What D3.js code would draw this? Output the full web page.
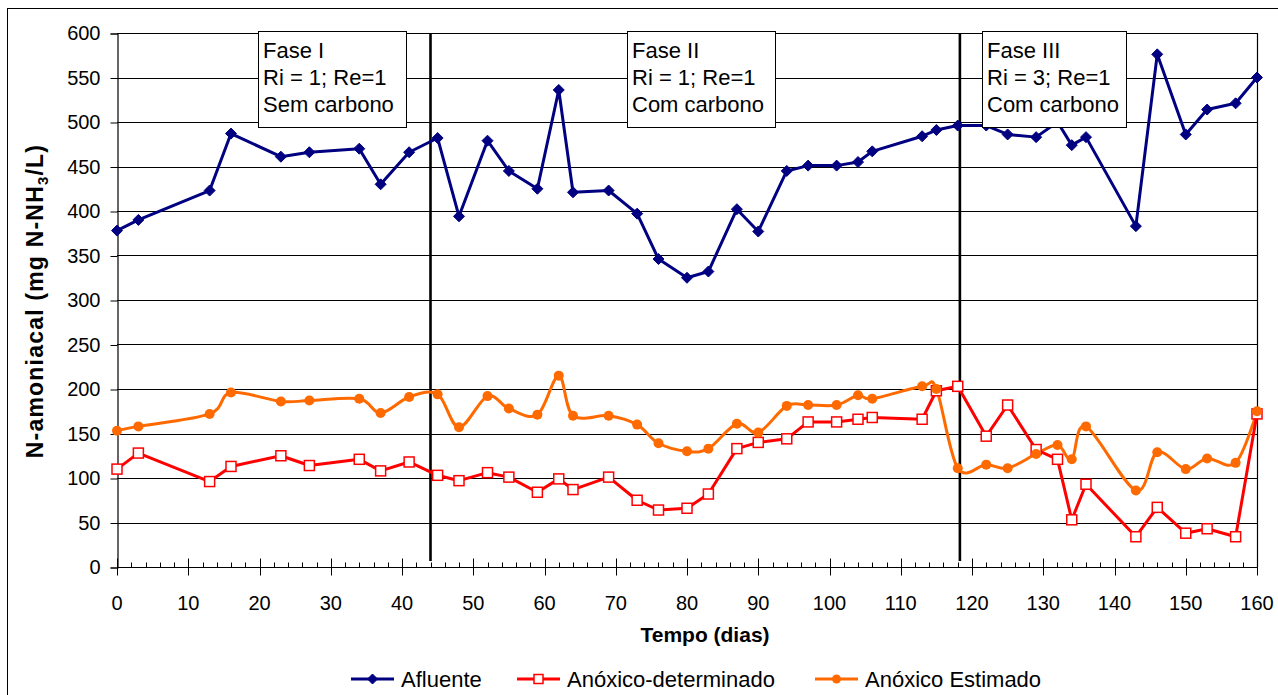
<!DOCTYPE html>
<html>
<head>
<meta charset="utf-8">
<script src="https://cdn.jsdelivr.net/npm/d3@7"></script>
<style>
  html, body { margin: 0; padding: 0; background: #fff; }
  svg { display: block; font-family: "Liberation Sans", Arial, sans-serif; }
</style>
</head>
<body>
<svg id="chart" width="1278" height="695"></svg>
<script>
// Tempo de operação (dias)
const days = [0,3,13,16,23,27,34,37,41,45,48,52,55,59,62,64,69,73,76,80,83,87,90,94,97,101,104,106,113,115,118,122,125,129,132,134,136,143,146,150,153,157,160];

// N-amoniacal (mg N-NH3/L)
const afluente = [378,390,423,487,461,466,470,430,466,482,394,479,445,425,536,421,423,397,346,325,332,402,377,445,451,451,455,467,484,491,496,496,486,483,500,474,483,383,576,486,514,521,550];
const anoxicoDeterminado = [110,128,96,113,125,114,121,108,118,103,97,106,101,84,99,87,101,75,64,66,82,133,140,144,163,163,166,168,166,198,203,147,182,132,121,53,93,34,67,38,43,34,172];
const anoxicoEstimado = [153,158,172,196,186,187,189,173,191,194,157,192,178,171,215,170,170,160,139,130,133,161,151,181,182,182,193,189,203,200,111,115,111,127,137,121,158,86,129,110,122,117,175];

const seriesNames = ["Afluente", "Anóxico-determinado", "Anóxico Estimado"];

// Axis ticks
const xTicks = [0,10,20,30,40,50,60,70,80,90,100,110,120,130,140,150,160];
const yTicks = [0,50,100,150,200,250,300,350,400,450,500,550,600];

// Limites das fases e textos das caixas
const phaseBounds = [44, 118.3];
const phaseLabels = [
  ["Fase I", "Ri = 1; Re=1", "Sem carbono"],
  ["Fase II", "Ri = 1; Re=1", "Com carbono"],
  ["Fase III", "Ri = 3; Re=1", "Com carbono"]
];

const svg = d3.select("#chart");
const plot = { left: 117, right: 1257, top: 33, bottom: 567 };

const x = d3.scaleLinear().domain([0, 160]).range([plot.left, plot.right]);
const y = d3.scaleLinear().domain([0, 600]).range([plot.bottom, plot.top]);

// outer chart frame
svg.append("rect")
  .attr("x", 7.5).attr("y", 8.5)
  .attr("width", 1400).attr("height", 800)
  .attr("fill", "#fff").attr("stroke", "#000").attr("stroke-width", 1);

// horizontal gridlines
svg.append("g")
  .selectAll("line")
  .data(yTicks.filter(d => d > 0))
  .join("line")
  .attr("x1", plot.left).attr("x2", plot.right)
  .attr("y1", d => Math.round(y(d)) + 0.5).attr("y2", d => Math.round(y(d)) + 0.5)
  .attr("stroke", "#000").attr("stroke-width", 1);

// right border of plot area
svg.append("line")
  .attr("x1", plot.right + 0.5).attr("x2", plot.right + 0.5)
  .attr("y1", plot.top).attr("y2", plot.bottom)
  .attr("stroke", "#000").attr("stroke-width", 1.2);

// y axis
const yAxis = d3.axisLeft(y).tickValues(yTicks).tickSize(7).tickPadding(10).tickFormat(d3.format("d"));
const gy = svg.append("g").attr("transform", `translate(${plot.left + 0.5},0.5)`).call(yAxis);
gy.select(".domain").attr("stroke", "#000").attr("stroke-width", 1.2);
gy.selectAll(".tick line").attr("stroke", "#000");
gy.selectAll(".tick text").attr("font-size", 20).attr("fill", "#000")
  .attr("font-family", "Liberation Sans, Arial, sans-serif");

// x axis: minor ticks every 2 days inside, major ticks every 10 crossing
const gx = svg.append("g").attr("transform", `translate(0,${plot.bottom + 0.5})`);
gx.append("line")
  .attr("x1", plot.left).attr("x2", plot.right + 1)
  .attr("stroke", "#000").attr("stroke-width", 1.2);
gx.selectAll("line.minor")
  .data(d3.range(0, 161, 2).filter(d => d % 10 !== 0))
  .join("line").attr("class", "minor")
  .attr("x1", d => Math.round(x(d)) + 0.5).attr("x2", d => Math.round(x(d)) + 0.5)
  .attr("y1", -5).attr("y2", 0)
  .attr("stroke", "#000");
gx.selectAll("line.major")
  .data(xTicks)
  .join("line").attr("class", "major")
  .attr("x1", d => Math.round(x(d)) + 0.5).attr("x2", d => Math.round(x(d)) + 0.5)
  .attr("y1", -9).attr("y2", 8)
  .attr("stroke", "#000");
gx.selectAll("text")
  .data(xTicks)
  .join("text")
  .attr("x", d => x(d)).attr("y", 42)
  .attr("text-anchor", "middle")
  .attr("font-size", 20).attr("fill", "#000")
  .text(d => d);

// phase separators
svg.append("g")
  .selectAll("line")
  .data(phaseBounds)
  .join("line")
  .attr("x1", d => x(d)).attr("x2", d => x(d))
  .attr("y1", plot.top).attr("y2", 561)
  .attr("stroke", "#000").attr("stroke-width", 2.6);

// series
const afl = days.map((d, i) => [d, afluente[i]]);
const det = days.map((d, i) => [d, anoxicoDeterminado[i]]);
const est = days.map((d, i) => [d, anoxicoEstimado[i]]);

const lineStraight = d3.line().x(d => x(d[0])).y(d => y(d[1]));
const lineSmooth = d3.line().x(d => x(d[0])).y(d => y(d[1])).curve(d3.curveCardinal.tension(0));

const colors = { afl: "#000080", det: "#FF0000", est: "#FF6A00" };

function diamond(g, cx, cy, s, color) {
  g.append("path")
    .attr("d", `M${cx},${cy - s}L${cx + s},${cy}L${cx},${cy + s}L${cx - s},${cy}Z`)
    .attr("fill", color).attr("stroke", color).attr("stroke-width", 1);
}

// Afluente
svg.append("path").datum(afl)
  .attr("d", lineStraight).attr("fill", "none")
  .attr("stroke", colors.afl).attr("stroke-width", 3).attr("stroke-linejoin", "round");
const gAfl = svg.append("g");
afl.forEach(d => diamond(gAfl, x(d[0]), y(d[1]), 5.5, colors.afl));

// Anóxico Estimado (smoothed)
svg.append("path").datum(est)
  .attr("d", lineSmooth).attr("fill", "none")
  .attr("stroke", colors.est).attr("stroke-width", 3);

// Anóxico-determinado
svg.append("path").datum(det)
  .attr("d", lineStraight).attr("fill", "none")
  .attr("stroke", colors.det).attr("stroke-width", 3).attr("stroke-linejoin", "round");
svg.append("g").selectAll("rect")
  .data(det).join("rect")
  .attr("x", d => x(d[0]) - 5).attr("y", d => y(d[1]) - 5)
  .attr("width", 10).attr("height", 10)
  .attr("fill", "#fff").attr("stroke", colors.det).attr("stroke-width", 1.5);

svg.append("g").selectAll("circle")
  .data(est).join("circle")
  .attr("cx", d => x(d[0])).attr("cy", d => y(d[1]))
  .attr("r", 5).attr("fill", colors.est);

// phase text boxes
const boxes = [
  { x0: 258, x1: 406 },
  { x0: 627, x1: 775 },
  { x0: 982, x1: 1126 }
];
boxes.forEach((b, i) => {
  const g = svg.append("g");
  g.append("rect")
    .attr("x", b.x0 + 0.5).attr("y", 31.5)
    .attr("width", b.x1 - b.x0).attr("height", 96)
    .attr("fill", "#fff").attr("stroke", "#000").attr("stroke-width", 1);
  phaseLabels[i].forEach((t, j) => {
    g.append("text")
      .attr("x", b.x0 + 5).attr("y", 57.5 + j * 27.3)
      .attr("font-size", 22).attr("fill", "#000")
      .text(t);
  });
});

// axis titles
svg.append("text")
  .attr("x", 705).attr("y", 642)
  .attr("text-anchor", "middle")
  .attr("font-size", 21).attr("font-weight", "bold").attr("fill", "#000")
  .text("Tempo (dias)");

const yt = svg.append("text")
  .attr("transform", `translate(43,301) rotate(-90)`)
  .attr("text-anchor", "middle")
  .attr("font-size", 23).attr("font-weight", "bold").attr("fill", "#000")
  .attr("letter-spacing", 1.2);
yt.append("tspan").text("N-amoniacal (mg N-NH");
yt.append("tspan").attr("font-size", 15).attr("dy", 5).text("3");
yt.append("tspan").attr("dy", -5).text("/L)");

// legend
const legendItems = [
  { name: seriesNames[0], x0: 351, color: colors.afl, marker: "diamond" },
  { name: seriesNames[1], x0: 517, color: colors.det, marker: "square" },
  { name: seriesNames[2], x0: 815, color: colors.est, marker: "circle" }
];
const ly = 679;
legendItems.forEach(it => {
  const g = svg.append("g");
  g.append("line")
    .attr("x1", it.x0).attr("x2", it.x0 + 43)
    .attr("y1", ly).attr("y2", ly)
    .attr("stroke", it.color).attr("stroke-width", 3);
  const cx = it.x0 + 21.5;
  if (it.marker === "diamond") diamond(g, cx, ly, 5, it.color);
  else if (it.marker === "square")
    g.append("rect").attr("x", cx - 4.5).attr("y", ly - 4.5).attr("width", 9).attr("height", 9)
      .attr("fill", "#fff").attr("stroke", it.color).attr("stroke-width", 1.5);
  else g.append("circle").attr("cx", cx).attr("cy", ly).attr("r", 4.5).attr("fill", it.color);
  g.append("text")
    .attr("x", it.x0 + 50).attr("y", ly + 7.5)
    .attr("font-size", 22).attr("fill", "#000")
    .text(it.name);
});
</script>
</body>
</html>
